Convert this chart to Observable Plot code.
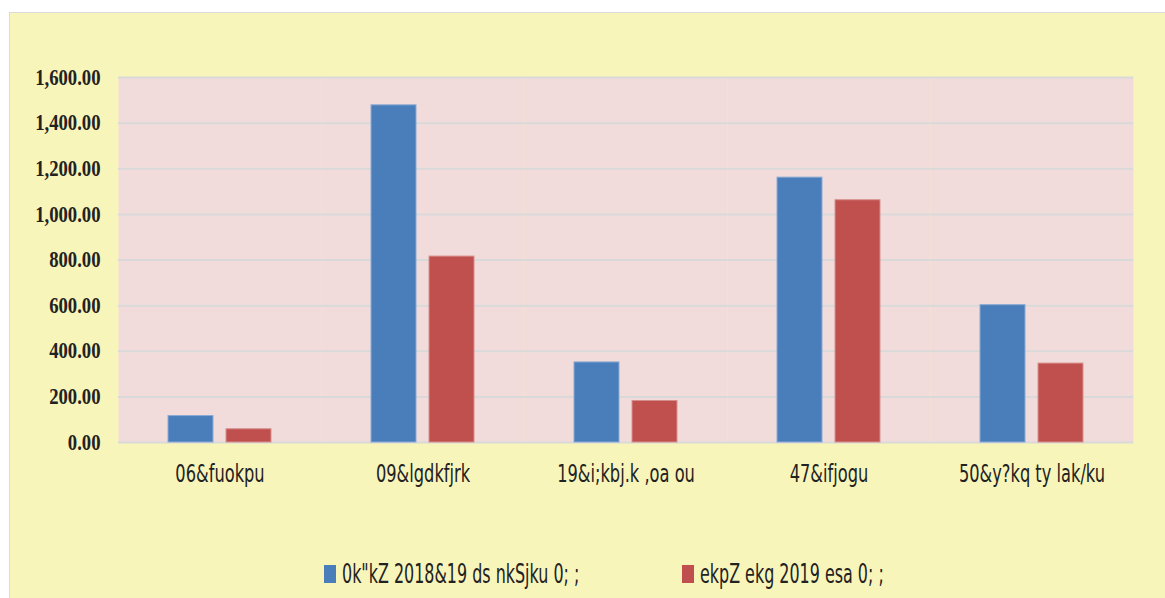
<!DOCTYPE html>
<html><head><meta charset="utf-8">
<script src="https://cdn.jsdelivr.net/npm/d3@7"></script>
<script src="https://cdn.jsdelivr.net/npm/@observablehq/plot@0.6"></script>
<style>
html,body{margin:0;padding:0;background:#fff;}
body{width:1165px;height:598px;overflow:hidden;position:relative;font-family:"DejaVu Sans",sans-serif;}
#box{position:absolute;left:9px;top:12px;width:1170px;height:600px;background:#F8F5BB;border:1.5px solid #DADADA;box-sizing:border-box;}
#chart{position:absolute;left:0;top:0;}
#legend{position:absolute;top:556px;left:0;width:1165px;height:36px;font-size:27px;color:#222;}
.item{position:absolute;top:0;height:36px;}
.sw{position:absolute;top:9px;left:0;width:12px;height:18px;}
.lt{position:absolute;left:18px;top:0;line-height:36px;white-space:nowrap;transform:scaleX(0.59);transform-origin:0 50%;}
</style>
</head><body>
<div id="box"></div>
<div id="chart"></div>
<div id="legend"></div>
<script>
const categories = ["06&fuokpu", "09&lgdkfjrk", "19&i;kbj.k ,oa ou", "47&ifjogu", "50&y?kq ty lak/ku"];
const seriesNames = ["0k\"kZ 2018&19 ds nkSjku 0; ;", "ekpZ ekg 2019 esa 0; ;"];
const series1 = [116, 1478, 351, 1161, 602];
const series2 = [58, 815, 182, 1062, 346];
const colors = ["#4A7EBB", "#C0504D"];
const strokes = ["#8AAAD3", "#D68F8D"];
const yTicks = [0, 200, 400, 600, 800, 1000, 1200, 1400, 1600];
const legendLefts = [324, 682];

const rows = [];
categories.forEach((c, i) => {
  rows.push({category: c, series: seriesNames[0], value: series1[i]});
  rows.push({category: c, series: seriesNames[1], value: series2[i]});
});

const chart = Plot.plot({
  width: 1165,
  height: 500,
  marginLeft: 118,
  marginRight: 32,
  marginTop: 77,
  marginBottom: 58,
  style: {background: "transparent", overflow: "visible"},
  facet: {data: rows, x: "category"},
  fx: {domain: categories, padding: 0, label: null, tickSize: 0, tickPadding: 22},
  x: {domain: seriesNames, paddingInner: 0.224, paddingOuter: 0.862, axis: null},
  y: {domain: [0, 1600], ticks: yTicks, tickSize: 0, tickPadding: 18, label: null, tickFormat: d3.format(",.2f")},
  color: {domain: seriesNames, range: colors},
  marks: [
    Plot.frame({fill: "#F2DCDB", stroke: null}),
    Plot.gridY(yTicks, {stroke: "#D9D9D9", strokeOpacity: 1, strokeWidth: 2}),
    Plot.barY(rows, {x: "series", y: "value", fill: "series", stroke: d => d.series === seriesNames[0] ? strokes[0] : strokes[1], strokeWidth: 1})
  ]
});

function styleAxis(sel, family, size, weight, sx) {
  const g = d3.select(chart).selectAll(sel);
  g.style("font-family", family).style("font-size", size).style("font-weight", weight).style("fill", "#222");
  g.selectAll("text").each(function() {
    const t = this.getAttribute("transform") || "";
    this.setAttribute("transform", t + ` scale(${sx},1)`);
    this.style.fontFamily = family;
    this.style.fontSize = size;
    this.style.fontWeight = weight;
  });
}
styleAxis("g[aria-label='y-axis tick label'], g[aria-label='y-axis']", "'Liberation Serif','DejaVu Serif',serif", "22.5px", "bold", 0.83);
styleAxis("g[aria-label='fx-axis tick label'], g[aria-label='fx-axis']", "'DejaVu Sans',sans-serif", "25px", "normal", 0.65);
document.getElementById("chart").appendChild(chart);

const legend = d3.select("#legend");
seriesNames.forEach((s, i) => {
  const it = legend.append("div").attr("class", "item").style("left", legendLefts[i] + "px");
  it.append("span").attr("class", "sw").style("background", colors[i]);
  it.append("span").attr("class", "lt").text(s);
});
</script>
</body></html>
